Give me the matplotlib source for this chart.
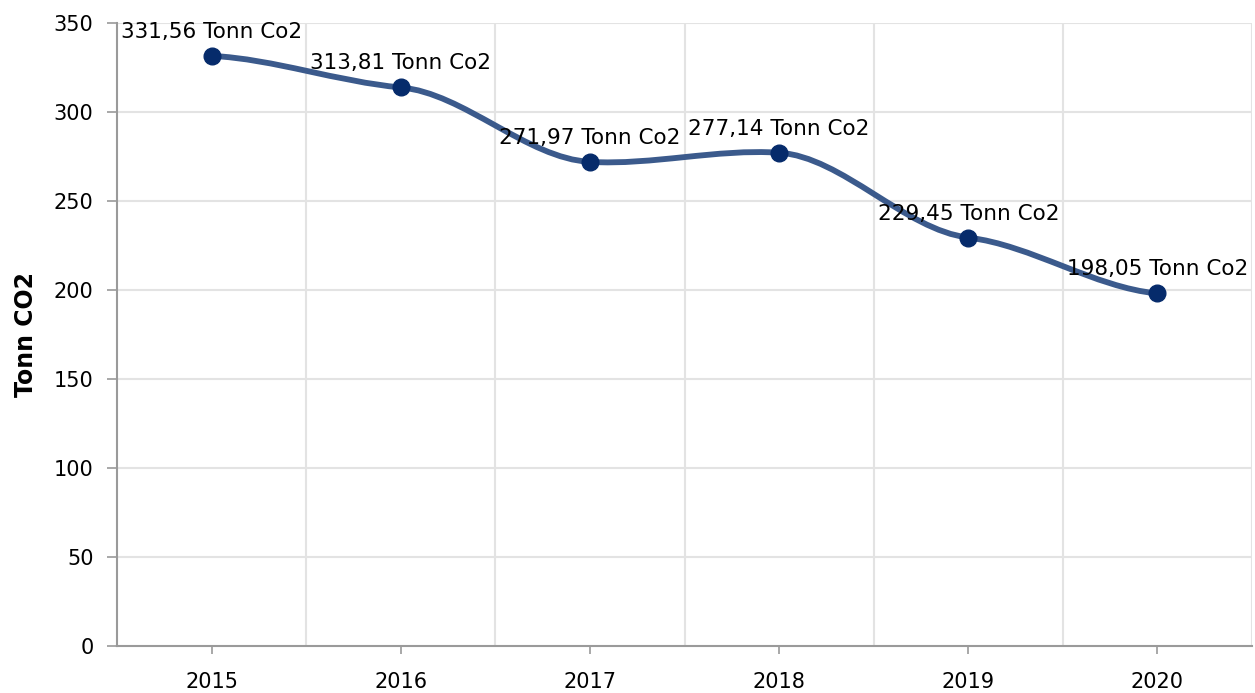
import matplotlib
matplotlib.use("Agg")
import matplotlib.pyplot as plt
from matplotlib.path import Path
from matplotlib.patches import PathPatch


years = ["2015", "2016", "2017", "2018", "2019", "2020"]
emissions = [331.56, 313.81, 271.97, 277.14, 229.45, 198.05]
y_ticks = [0, 50, 100, 150, 200, 250, 300, 350]

LINE_COLOR = "#3b5a8c"
MARKER_COLOR = "#062b6b"
GRID_COLOR = "#e3e3e3"
AXIS_COLOR = "#9a9a9a"


def spline_path(xs, ys, tension=0.32):
    # hermite curve with damped tangents, gives the soft S-shapes
    n = len(xs)
    slopes = []
    for i in range(n):
        a = max(i - 1, 0)
        b = min(i + 1, n - 1)
        slopes.append(tension * (ys[b] - ys[a]) / (xs[b] - xs[a]))

    verts = [(xs[0], ys[0])]
    codes = [Path.MOVETO]
    for i in range(1, n):
        h = (xs[i] - xs[i - 1]) / 3
        verts += [
            (xs[i - 1] + h, ys[i - 1] + slopes[i - 1] * h),
            (xs[i] - h, ys[i] - slopes[i] * h),
            (xs[i], ys[i]),
        ]
        codes += [Path.CURVE4] * 3
    return Path(verts, codes)


def make_chart():
    fig = plt.figure(figsize=(12.55, 6.93), dpi=100)
    ax = fig.add_axes([117 / 1255, 47 / 693, 1135 / 1255, 623 / 693])

    xs = list(range(len(years)))
    ax.set_xlim(-0.5, len(years) - 0.5)
    ax.set_ylim(0, 350)

    # grid: vertical lines between categories, horizontal at ticks
    for b in range(len(years)):
        ax.axvline(b + 0.5, color=GRID_COLOR, lw=1.5, zorder=0)
    for t in y_ticks[1:]:
        ax.axhline(t, color=GRID_COLOR, lw=1.5, zorder=0)

    path = spline_path(xs, emissions)
    ax.add_patch(PathPatch(path, facecolor="none", edgecolor=LINE_COLOR,
                           lw=4.2, capstyle="round", zorder=2))
    ax.plot(xs, emissions, "o", color=MARKER_COLOR, markersize=12,
            zorder=3)

    for x, v in zip(xs, emissions):
        label = f"{v:.2f}".replace(".", ",") + " Tonn Co2"
        ax.annotate(label, (x, v), xytext=(0, 13), textcoords="offset points",
                    ha="center", va="baseline", fontsize=15.5, zorder=4)

    ax.set_xticks(xs)
    ax.set_xticklabels(years)
    ax.set_yticks(y_ticks)
    ax.tick_params(axis="x", length=6, width=1.2, color=AXIS_COLOR,
                   labelsize=15, pad=13)
    ax.tick_params(axis="y", length=7, width=1.2, color=AXIS_COLOR,
                   labelsize=15, pad=10)

    for side in ["top", "right"]:
        ax.spines[side].set_visible(False)
    for side in ["left", "bottom"]:
        ax.spines[side].set_color(AXIS_COLOR)
        ax.spines[side].set_linewidth(1.5)

    ax.set_ylabel("Tonn CO2", fontsize=17, fontweight="bold", labelpad=11)

    fig.savefig("out.png", dpi=100)


if __name__ == "__main__":
    make_chart()
